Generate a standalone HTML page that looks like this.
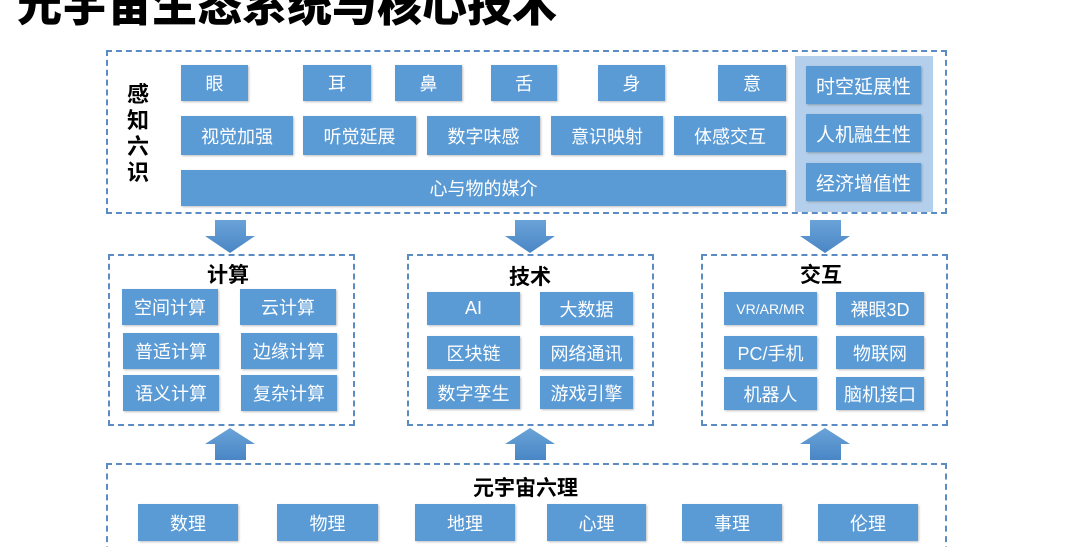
<!DOCTYPE html>
<html><head><meta charset="utf-8"><style>
html,body{margin:0;width:1080px;height:547px;overflow:hidden}
body{background:#fff;position:relative;font-family:"Liberation Sans","Noto Sans CJK SC",sans-serif}
.t{position:absolute;left:17px;top:-31px;font-size:45px;font-weight:900;color:#000;white-space:nowrap}
.d{position:absolute;border:2.5px dashed #5a8cc3;box-sizing:border-box}
.b{position:absolute;background:#5b9bd5;color:#fff;font-size:18px;display:flex;align-items:center;justify-content:center;box-shadow:1px 1px 2px rgba(0,0,0,.25);white-space:nowrap}
.h{position:absolute;font-weight:bold;font-size:21px;color:#000;white-space:nowrap}
svg{position:absolute;left:0;top:0}
</style></head><body>
<div class="t">元宇宙生态系统与核心技术</div>

<div class="d" style="left:106px;top:50px;width:841px;height:164px"></div>
<div class="h" style="left:127px;top:82px;width:24px;line-height:26px;font-size:22px">感<br>知<br>六<br>识</div>
<div class="b" style="left:181px;top:65px;width:67px;height:36px">眼</div>
<div class="b" style="left:303px;top:65px;width:68px;height:36px">耳</div>
<div class="b" style="left:395px;top:65px;width:67px;height:36px">鼻</div>
<div class="b" style="left:491px;top:65px;width:66px;height:36px">舌</div>
<div class="b" style="left:598px;top:65px;width:67px;height:36px">身</div>
<div class="b" style="left:718px;top:65px;width:68px;height:36px">意</div>
<div class="b" style="left:181px;top:116px;width:112px;height:39px">视觉加强</div>
<div class="b" style="left:303px;top:116px;width:113px;height:39px">听觉延展</div>
<div class="b" style="left:427px;top:116px;width:113px;height:39px">数字味感</div>
<div class="b" style="left:551px;top:116px;width:112px;height:39px">意识映射</div>
<div class="b" style="left:674px;top:116px;width:112px;height:39px">体感交互</div>
<div class="b" style="left:181px;top:170px;width:605px;height:36px">心与物的媒介</div>
<div style="position:absolute;left:795px;top:56px;width:138px;height:156px;background:#b4cfeb"></div>
<div class="b" style="left:806px;top:66px;width:115px;height:38px;font-size:19px">时空延展性</div>
<div class="b" style="left:806px;top:114px;width:115px;height:38px;font-size:19px">人机融生性</div>
<div class="b" style="left:806px;top:163px;width:115px;height:38px;font-size:19px">经济增值性</div>

<div class="d" style="left:108px;top:254px;width:247px;height:172px"></div>
<div class="h" style="left:207px;top:259px">计算</div>
<div class="b" style="left:122px;top:289px;width:96px;height:36px">空间计算</div>
<div class="b" style="left:240px;top:289px;width:96px;height:36px">云计算</div>
<div class="b" style="left:123px;top:333px;width:96px;height:36px">普适计算</div>
<div class="b" style="left:241px;top:333px;width:96px;height:36px">边缘计算</div>
<div class="b" style="left:123px;top:375px;width:96px;height:36px">语义计算</div>
<div class="b" style="left:241px;top:375px;width:96px;height:36px">复杂计算</div>

<div class="d" style="left:407px;top:254px;width:247px;height:172px"></div>
<div class="h" style="left:509px;top:261px">技术</div>
<div class="b" style="left:427px;top:292px;width:93px;height:33px">AI</div>
<div class="b" style="left:540px;top:292px;width:93px;height:33px">大数据</div>
<div class="b" style="left:427px;top:336px;width:93px;height:33px">区块链</div>
<div class="b" style="left:540px;top:336px;width:93px;height:33px">网络通讯</div>
<div class="b" style="left:427px;top:376px;width:93px;height:33px">数字孪生</div>
<div class="b" style="left:540px;top:376px;width:93px;height:33px">游戏引擎</div>

<div class="d" style="left:701px;top:254px;width:247px;height:172px"></div>
<div class="h" style="left:800px;top:259px">交互</div>
<div class="b" style="left:724px;top:292px;width:93px;height:33px;font-size:14px">VR/AR/MR</div>
<div class="b" style="left:836px;top:292px;width:88px;height:33px">裸眼3D</div>
<div class="b" style="left:724px;top:336px;width:93px;height:33px">PC/手机</div>
<div class="b" style="left:836px;top:336px;width:88px;height:33px">物联网</div>
<div class="b" style="left:724px;top:377px;width:93px;height:33px">机器人</div>
<div class="b" style="left:836px;top:377px;width:88px;height:33px">脑机接口</div>

<div class="d" style="left:106px;top:463px;width:841px;height:100px"></div>
<div class="h" style="left:473px;top:472px">元宇宙六理</div>
<div class="b" style="left:138px;top:504px;width:100px;height:37px">数理</div>
<div class="b" style="left:277px;top:504px;width:101px;height:37px">物理</div>
<div class="b" style="left:415px;top:504px;width:100px;height:37px">地理</div>
<div class="b" style="left:547px;top:504px;width:99px;height:37px">心理</div>
<div class="b" style="left:682px;top:504px;width:100px;height:37px">事理</div>
<div class="b" style="left:818px;top:504px;width:100px;height:37px">伦理</div>

<svg width="1080" height="547">
<defs><linearGradient id="g" x1="0" y1="0" x2="0" y2="1"><stop offset="0" stop-color="#6aa3d8"/><stop offset="1" stop-color="#4a86c5"/></linearGradient></defs>
<g fill="url(#g)">
<polygon points="215,220 246,220 246,236 255,236 230,253 205,236 215,236"/>
<polygon points="515,220 546,220 546,236 555,236 530,253 505,236 515,236"/>
<polygon points="810,220 841,220 841,236 850,236 825,253 800,236 810,236"/>
<polygon points="230,428 255,444 246,444 246,460 215,460 215,444 205,444"/>
<polygon points="530,428 555,444 546,444 546,460 515,460 515,444 505,444"/>
<polygon points="825,428 850,444 841,444 841,460 810,460 810,444 800,444"/>
</g></svg>
</body></html>
